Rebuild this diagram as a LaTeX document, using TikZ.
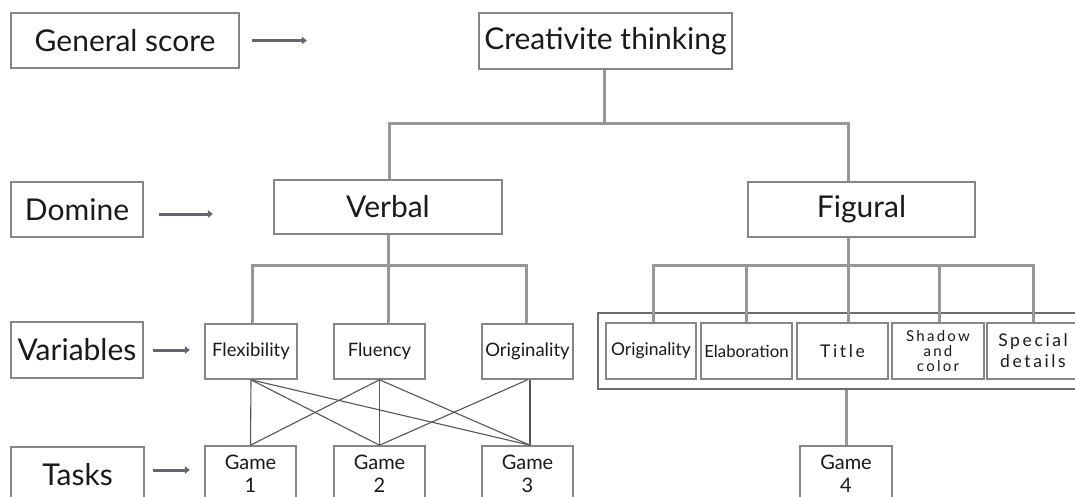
\documentclass[tikz,border=0pt]{standalone}
\usepackage{fontspec}
\setmainfont{Lato}
\newfontfamily\spaced[LetterSpace=15]{Lato}
\usetikzlibrary{arrows.meta}
\definecolor{boxline}{HTML}{85858C}
\definecolor{groupline}{HTML}{6C6C70}
\definecolor{treeline}{HTML}{979797}
\definecolor{linkline}{HTML}{555555}
\definecolor{arrowcol}{HTML}{666670}
\definecolor{ink}{HTML}{1A1A1A}
\begin{document}
\begin{tikzpicture}[x=1pt,y=-1pt,
  box/.style={draw=boxline, line width=1.6pt, fill=white, rectangle, inner sep=0pt, text=ink, align=center},
  big/.style={box, font=\fontsize{30}{33}\selectfont},
  mid/.style={box, font=\fontsize{18.5}{20}\selectfont},
  wide/.style={box, font=\fontsize{17.5}{21}\selectfont\spaced},
  game/.style={box, font=\fontsize{20}{23}\selectfont},
  tree/.style={draw=treeline, line width=3pt},
  link/.style={draw=linkline, line width=1.1pt},
  lvl/.style={draw=arrowcol, line width=3pt, -{Triangle[length=5pt,width=7.5pt]}},
]
\useasboundingbox (0,0) rectangle (1075,497);
\clip (0,0) rectangle (1075,497);

% level labels
\node[big, minimum width=228pt, minimum height=55pt] (gs)    at (125,40.5)  {General score};
\node[big, minimum width=132pt, minimum height=55pt] (dom)   at (77,209.5)  {Domine};
\node[big, minimum width=132pt, minimum height=56pt] (var)   at (77,350)    {Variables};
\node[big, minimum width=133pt, minimum height=56pt] (tasks) at (77.5,475)  {Tasks};

\draw[lvl] ([xshift=12pt]gs.east) -- ++(55,0);
\draw[lvl] ([xshift=15pt,yshift=-4.5pt]dom.east) -- ++(54,0);
\draw[lvl] ([xshift=9pt]var.east) -- ++(37,0);
\draw[lvl] ([xshift=8pt,yshift=5pt]tasks.east) -- ++(37,0);

% root and domains
\node[big, minimum width=253pt, minimum height=56pt] (ct)   at (605.5,41)   {Creativite thinking};
\node[big, minimum width=228pt, minimum height=54pt] (verb) at (388,207)    {Verbal};
\node[big, minimum width=227pt, minimum height=55pt] (fig)  at (861.5,209.5) {Figural};

% verbal variables
\node[mid, minimum width=92pt, minimum height=55pt] (flex) at (251,351.5)   {Flexibility};
\node[mid, minimum width=91pt, minimum height=55pt] (flu)  at (379.5,351.5) {Fluency};
\node[mid, minimum width=91pt, minimum height=55pt] (ori)  at (527.5,351.5) {Originality};

% figural variables
\node[box, draw=groupline, line width=2pt, minimum width=500pt, minimum height=76pt] (fgroup) at (848,351) {};
\node[mid,  minimum width=90pt, minimum height=56pt, font=\fontsize{17.5}{20}\selectfont] (ori2) at (651,351) {Originality};
\node[mid,  minimum width=91pt, minimum height=56pt, font=\fontsize{16.8}{20}\selectfont] (ela)  at (746.5,351) {Elaboration};
\node[wide, minimum width=91pt, minimum height=56pt] (tit)  at (842.5,351)  {Title};
\node[wide, minimum width=92pt, minimum height=56pt, font=\fontsize{15}{15}\selectfont\spaced] (sha) at (938,351) {Shadow\\and\\color};
\node[wide, minimum width=92pt, minimum height=56pt] (spe)  at (1033,351)   {Special\\details};

% tasks
\node[game, minimum width=91pt, minimum height=56pt] (g1) at (250.5,474) {Game\\1};
\node[game, minimum width=91pt, minimum height=56pt] (g2) at (379.5,474) {Game\\2};
\node[game, minimum width=91pt, minimum height=56pt] (g3) at (527.5,474) {Game\\3};
\node[game, minimum width=92pt, minimum height=56pt] (g4) at (846,474)   {Game\\4};

% tree connectors
\coordinate (topbar) at (604,124);
\draw[tree] ([xshift=-1.5pt]ct.south) -- ([xshift=-1.5pt]ct.south |- topbar);
\draw[tree] ([xshift=1pt]verb.north) |- ([xshift=-13.5pt]fig.north |- topbar) -- ([xshift=-13.5pt]fig.north);

\coordinate (vbar) at (388,265);
\draw[tree] (verb.south) -- (verb.south |- vbar);
\draw[tree] ([xshift=1pt]flex.north) |- ([xshift=-1.5pt]ori.north |- vbar) -- ([xshift=-1.5pt]ori.north);
\draw[tree] ([xshift=8.5pt]flu.north) -- ([xshift=8.5pt]flu.north |- vbar);

\coordinate (fbar) at (848,265);
\draw[tree] ([xshift=-13.5pt]fig.south) -- ([xshift=-13.5pt]fig.south |- fbar);
\draw[tree] ([xshift=2pt]ori2.north) |- (spe.north |- fbar) -- (spe.north);
\draw[tree] (ela.north) -- (ela.north |- fbar);
\draw[tree] ([xshift=5.5pt]tit.north) -- ([xshift=5.5pt]tit.north |- fbar);
\draw[tree] ([xshift=1pt]sha.north) -- ([xshift=1pt]sha.north |- fbar);

\draw[tree] (fgroup.south -| g4.north) -- (g4.north);

% variable-to-task links
\draw[link] (flex.south) -- (g1.north);
\draw[link] (flex.south) -- (g2.north);
\draw[link] (flex.south) -- ([xshift=2.5pt]g3.north);
\draw[link] (flu.south) -- (g1.north);
\draw[link] (flu.south) -- (g2.north);
\draw[link] (flu.south) -- ([xshift=2.5pt]g3.north);
\draw[link] (ori.south) -- (g2.north);
\draw[link] ([xshift=2.5pt]ori.south) -- ([xshift=2.5pt]g3.north);
\end{tikzpicture}
\end{document}
